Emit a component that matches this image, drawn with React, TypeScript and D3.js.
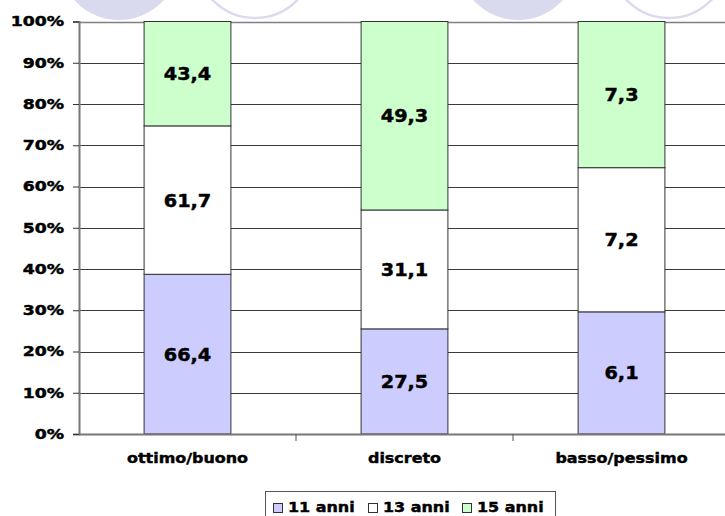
import { useEffect, useRef } from "react";
import * as d3 from "d3";

const categories = ["ottimo/buono", "discreto", "basso/pessimo"];
const seriesNames = ["11 anni", "13 anni", "15 anni"];
const values11 = [66.4, 27.5, 6.1];
const values13 = [61.7, 31.1, 7.2];
const values15 = [43.4, 49.3, 7.3];
const colors = ["#ccccff", "#ffffff", "#ccffcc"];

const FONT = "'DejaVu Sans', Verdana, sans-serif";

export default function App() {
  const ref = useRef<SVGSVGElement>(null);

  useEffect(() => {
    const svg = d3.select(ref.current);
    svg.selectAll("*").remove();

    const rows = categories.map((c, i) => ({
      cat: c,
      "11 anni": values11[i],
      "13 anni": values13[i],
      "15 anni": values15[i],
    }));
    const stacked = d3.stack<any>().keys(seriesNames).offset(d3.stackOffsetExpand)(rows);

    const x = d3.scaleBand().domain(categories).range([79, 730]).paddingInner(0.6).paddingOuter(0.3);
    const y = d3.scaleLinear().domain([0, 1]).range([434, 21.5]);

    // heavy text helper (Verdana bold look)
    const label = (tx: number, ty: number, sx: number, size: number, anchor: string, s: string, dy = "0") =>
      svg.append("text")
        .attr("transform", `translate(${tx},${ty}) scale(${sx},1)`)
        .attr("text-anchor", anchor)
        .attr("dy", dy)
        .attr("font-family", FONT)
        .attr("font-weight", "bold")
        .attr("font-size", size)
        .attr("fill", "#000")
        .attr("stroke", "#000")
        .attr("stroke-width", 0.45)
        .text(s);

    // watermark circles at the top
    const bg = svg.append("g");
    [119, 518].forEach((cx) =>
      bg.append("circle").attr("cx", cx).attr("cy", -40).attr("r", 60).attr("fill", "#dadaee")
    );
    [255, 669].forEach((cx) =>
      bg.append("circle").attr("cx", cx).attr("cy", -41).attr("r", 59).attr("fill", "none")
        .attr("stroke", "#dadaee").attr("stroke-width", 2.5)
    );

    // grid
    const ticks = y.ticks(10);
    svg.append("g")
      .selectAll("line")
      .data(ticks.filter((t) => t > 0))
      .join("line")
      .attr("x1", 79).attr("x2", 730)
      .attr("y1", (d) => Math.round(y(d)) + 0.5).attr("y2", (d) => Math.round(y(d)) + 0.5)
      .attr("stroke", (d) => (d === 1 ? "#808080" : "#3a3a3a"))
      .attr("stroke-width", (d) => (d === 1 ? 1.5 : 1));

    // bars
    const layer = svg.append("g")
      .selectAll("g")
      .data(stacked)
      .join("g")
      .attr("fill", (d, i) => colors[i]);
    layer.selectAll("rect")
      .data((d) => d)
      .join("rect")
      .attr("x", (d: any) => x(d.data.cat)!)
      .attr("width", x.bandwidth())
      .attr("y", (d) => y(d[1]))
      .attr("height", (d) => y(d[0]) - y(d[1]))
      .attr("stroke", "#333")
      .attr("stroke-width", 1);

    // value labels
    stacked.forEach((s, si) => {
      s.forEach((d: any, ci) => {
        const cx = x(d.data.cat)! + x.bandwidth() / 2;
        const cy = (y(d[0]) + y(d[1])) / 2;
        const v = [values11, values13, values15][si][ci];
        label(cx, cy, 1.07, 18, "middle", v.toFixed(1).replace(".", ","), "0.36em");
      });
    });

    // y axis
    const yAxis = svg.append("g")
      .attr("transform", "translate(79,0)")
      .call(d3.axisLeft(y).ticks(10).tickSize(6).tickFormat(() => ""));
    yAxis.select(".domain").attr("stroke", "#777").attr("stroke-width", 2);
    yAxis.selectAll(".tick line").attr("stroke", "#333");
    ticks.forEach((t) => {
      label(64, y(t), 1.25, 13.8, "end", d3.format(".0%")(t), "0.36em");
    });

    // x axis
    svg.append("line")
      .attr("x1", 79).attr("x2", 730).attr("y1", 434.5).attr("y2", 434.5)
      .attr("stroke", "#777").attr("stroke-width", 2);
    const step = x.step();
    [1, 2].forEach((i) =>
      svg.append("line")
        .attr("x1", 79 + i * step).attr("x2", 79 + i * step)
        .attr("y1", 434).attr("y2", 441)
        .attr("stroke", "#555")
    );
    categories.forEach((c) => {
      label(x(c)! + x.bandwidth() / 2, 463, 1.1, 14.5, "middle", c);
    });

    // legend
    svg.append("rect")
      .attr("x", 265.5).attr("y", 491.5).attr("width", 290).attr("height", 30)
      .attr("fill", "#fff").attr("stroke", "#555");
    const legendX = [273, 368, 462];
    seriesNames.forEach((s, i) => {
      svg.append("rect")
        .attr("x", legendX[i] + 0.5).attr("y", 503.5).attr("width", 9).attr("height", 9)
        .attr("fill", colors[i]).attr("stroke", "#333");
      label(legendX[i] + 15, 512, 1.1, 14.5, "start", s);
    });
  }, []);

  return (
    <svg
      ref={ref}
      width={725}
      height={516}
      style={{ position: "absolute", left: 0, top: 0, background: "#fff" }}
    />
  );
}
